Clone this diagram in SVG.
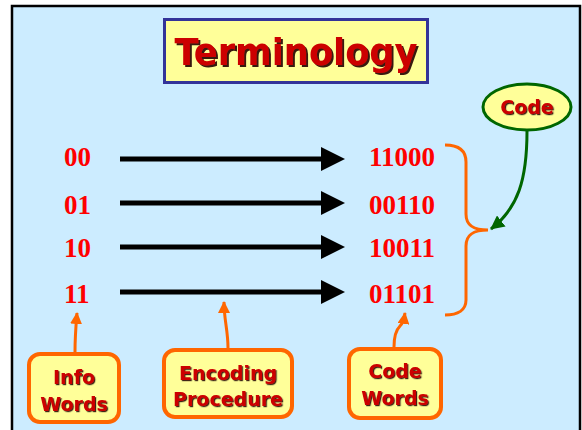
<svg xmlns="http://www.w3.org/2000/svg" width="582" height="430" viewBox="0 0 582 430">
  <defs>
    <filter id="shadow" x="-10%" y="-20%" width="130%" height="150%">
      <feDropShadow dx="1.2" dy="1.2" stdDeviation="0.3" flood-color="#220000" flood-opacity="0.85"/>
    </filter>
    <filter id="titleShadow" x="-10%" y="-20%" width="130%" height="150%">
      <feDropShadow dx="2" dy="2" stdDeviation="0.4" flood-color="#220000" flood-opacity="0.9"/>
    </filter>
    <marker id="blackHead" viewBox="0 0 24 24" markerWidth="24" markerHeight="24" refX="1" refY="12" markerUnits="userSpaceOnUse" orient="auto">
      <path d="M0,0 L24,12 L0,24 Z" fill="#000"/>
    </marker>
    <marker id="orangeHead" viewBox="0 0 12 12" markerWidth="12" markerHeight="12" refX="11" refY="6" markerUnits="userSpaceOnUse" orient="auto">
      <path d="M0,0 L12,6 L0,12 Z" fill="#FF6600"/>
    </marker>
    <marker id="greenHead" viewBox="0 0 14 14" markerWidth="14" markerHeight="14" refX="13" refY="7" markerUnits="userSpaceOnUse" orient="auto">
      <path d="M0,0 L14,7 L0,14 Z" fill="#006600"/>
    </marker>
  </defs>
  <style>
    .bits { font-family: "Liberation Serif", "Times New Roman", serif; font-weight: bold; font-size: 27px; fill: #FF0000; }
    .label { font-family: "DejaVu Sans", "Liberation Sans", sans-serif; font-weight: bold; font-size: 19px; fill: #CC0000; text-anchor: middle; filter: url(#shadow); }
    .box { fill: #FFFF99; stroke: #FF6600; stroke-width: 4; }
    .arrow { stroke: #000; stroke-width: 5; fill: none; marker-end: url(#blackHead); }
    .pointer { stroke: #FF6600; stroke-width: 3; fill: none; marker-end: url(#orangeHead); }
  </style>

  <!-- slide background -->
  <rect x="0" y="0" width="582" height="430" fill="#FFFFFF"/>
  <rect x="12" y="6" width="568" height="430" fill="#CCECFF" stroke="#000" stroke-width="2.5"/>

  <!-- title -->
  <g id="title">
    <rect x="164.5" y="19.5" width="263" height="63" fill="#FFFF99" stroke="#333399" stroke-width="3"/>
    <text x="296" y="65" font-family="DejaVu Sans, Liberation Sans, sans-serif" font-weight="bold" font-size="38" fill="#CC0000" text-anchor="middle" textLength="243" lengthAdjust="spacingAndGlyphs" filter="url(#titleShadow)">Terminology</text>
  </g>

  <!-- info words -->
  <g id="info-bits">
    <text class="bits" x="64" y="166">00</text>
    <text class="bits" x="64" y="214">01</text>
    <text class="bits" x="64" y="257">10</text>
    <text class="bits" x="64" y="303">11</text>
  </g>

  <!-- code words -->
  <g id="code-bits">
    <text class="bits" x="369" y="166">11000</text>
    <text class="bits" x="369" y="214">00110</text>
    <text class="bits" x="369" y="257">10011</text>
    <text class="bits" x="369" y="303">01101</text>
  </g>

  <!-- "Code" bubble -->
  <g id="code-bubble">
    <ellipse cx="527" cy="107" rx="44" ry="23" fill="#FFFF99" stroke="#006600" stroke-width="3"/>
    <text class="label" x="527" y="114" font-size="20">Code</text>
  </g>

  <!-- labelled boxes along the bottom -->
  <g id="info-words-box">
    <rect class="box" x="29" y="354" width="90" height="68" rx="11"/>
    <text class="label" x="74" y="384">Info</text>
    <text class="label" x="74" y="411">Words</text>
  </g>
  <g id="encoding-box">
    <rect class="box" x="164" y="350" width="128" height="67" rx="11"/>
    <text class="label" x="228" y="380">Encoding</text>
    <text class="label" x="228" y="406">Procedure</text>
  </g>
  <g id="code-words-box">
    <rect class="box" x="349" y="349" width="92" height="69" rx="11"/>
    <text class="label" x="395" y="378">Code</text>
    <text class="label" x="395" y="405">Words</text>
  </g>

  <!-- connectors -->
  <g id="connectors">
    <line class="arrow" x1="120" y1="159" x2="322" y2="159"/>
    <line class="arrow" x1="120" y1="203" x2="322" y2="203"/>
    <line class="arrow" x1="120" y1="247" x2="322" y2="247"/>
    <line class="arrow" x1="120" y1="292" x2="322" y2="292"/>

    <!-- brace grouping the code words -->
    <path d="M445,145 C458,145 466,150 466,162 L466,214 C466,226 474,230 488,230 C474,230 466,234 466,246 L466,300 C466,310 458,315 445,315" fill="none" stroke="#FF6600" stroke-width="3"/>

    <!-- bubble pointer -->
    <path d="M527,131 C527,180 518,208 491,229" fill="none" stroke="#006600" stroke-width="3" marker-end="url(#greenHead)"/>

    <!-- box pointers -->
    <path class="pointer" d="M75,352 C75,336 76,325 77,313"/>
    <path class="pointer" d="M228,348 C228,330 224,320 224,302"/>
    <path class="pointer" d="M394,347 C394,335 396,330 400,326 C403,323 404,320 405,313"/>
  </g>
</svg>
